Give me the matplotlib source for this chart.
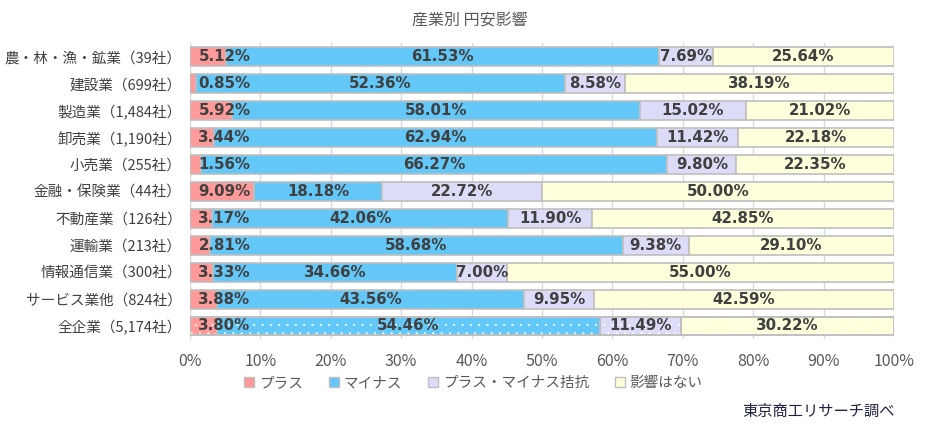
import matplotlib
matplotlib.use('Agg')
from matplotlib import pyplot as plt
from matplotlib.patches import Patch

plt.rcParams['font.family'] = ['Noto Sans CJK JP', 'DejaVu Sans']
plt.rcParams['hatch.linewidth'] = 0.3

# data (percent of companies)
categories = [
    '農・林・漁・鉱業（39社）',
    '建設業（699社）',
    '製造業（1,484社）',
    '卸売業（1,190社）',
    '小売業（255社）',
    '金融・保険業（44社）',
    '不動産業（126社）',
    '運輸業（213社）',
    '情報通信業（300社）',
    'サービス業他（824社）',
    '全企業（5,174社）',
]
plus = [5.12, 0.85, 5.92, 3.44, 1.56, 9.09, 3.17, 2.81, 3.33, 3.88, 3.80]
minus = [61.53, 52.36, 58.01, 62.94, 66.27, 18.18, 42.06, 58.68, 34.66, 43.56, 54.46]
even = [7.69, 8.58, 15.02, 11.42, 9.80, 22.72, 11.90, 9.38, 7.00, 9.95, 11.49]
no_effect = [25.64, 38.19, 21.02, 22.18, 22.35, 50.00, 42.85, 29.10, 55.00, 42.59, 30.22]

series_names = ['プラス', 'マイナス', 'プラス・マイナス拮抗', '影響はない']
colors = ['#ff9a9a', '#63c8f8', '#dcdcf8', '#ffffdc']
x_ticks = [0, 10, 20, 30, 40, 50, 60, 70, 80, 90, 100]

fig = plt.figure(figsize=(9.34, 4.38), dpi=100)
ax = fig.add_axes([0.2034, 0.225, 0.7537, 0.6758])

y = list(range(len(categories)))
left = [0.0] * len(categories)
for values, name, col in zip([plus, minus, even, no_effect], series_names, colors):
    ax.barh(y, values, left=left, height=0.7, color=col,
            edgecolor='#bfbfbf', linewidth=1.2, label=name, zorder=3)
    # dotted pattern on the total row, then the outline again on top
    ax.barh(y[-1], values[-1], left=left[-1], height=0.7, color='none',
            edgecolor='white', linewidth=0, hatch='..', zorder=4)
    ax.barh(y[-1], values[-1], left=left[-1], height=0.7, color='none',
            edgecolor='#bfbfbf', linewidth=1.2, zorder=4.5)
    for i, v in enumerate(values):
        if name == 'プラス':
            # small segments: label starts at the bar start
            ax.text(left[i] + 1.2, i, f'{v:.2f}%', ha='left', va='center',
                    fontsize=10.8, fontweight='bold', color='#404040',
                    family='DejaVu Sans', zorder=5)
        else:
            ax.text(left[i] + v / 2, i, f'{v:.2f}%', ha='center', va='center',
                    fontsize=10.8, fontweight='bold', color='#404040',
                    family='DejaVu Sans', zorder=5)
        left[i] += v

ax.set_xlim(0, 100)
ax.set_ylim(len(categories) - 0.5, -0.5)
ax.set_yticks(y)
ax.set_yticklabels(categories, fontsize=10.5, color='#404040')
ax.set_xticks(x_ticks)
ax.set_xticklabels([f'{t}%' for t in x_ticks], fontsize=11.5, color='#595959')
ax.tick_params(axis='both', length=0)
ax.tick_params(axis='x', pad=10)
ax.tick_params(axis='y', pad=6)
ax.grid(axis='x', color='#d9d9d9', linewidth=1, zorder=0)
for s in ['top', 'right', 'bottom']:
    ax.spines[s].set_visible(False)
ax.spines['left'].set_color('#d9d9d9')

fig.text(0.503, 0.953, '産業別 円安影響', ha='center', va='center',
         fontsize=11.5, color='#595959')

handles = [Patch(facecolor=c, edgecolor='#bfbfbf', linewidth=1) for c in colors]
fig.legend(handles, series_names, loc='center', bbox_to_anchor=(0.507, 0.125),
           ncol=4, frameon=False, fontsize=10.5, handlelength=0.7, handleheight=0.7,
           handletextpad=0.3, columnspacing=1.8, labelcolor='#595959')

fig.text(0.958, 0.06, '東京商工リサーチ調べ', ha='right', va='center',
         fontsize=11, color='#1f2240')

fig.savefig('out.png', dpi=100)
